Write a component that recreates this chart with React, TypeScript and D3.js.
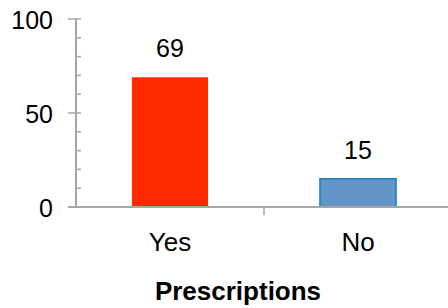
import React from "react";
import { scaleBand, scaleLinear, range } from "d3";

const categories = ["Yes", "No"];
const values = [69, 15];
const barColors = ["#ff2a00", "#6395c9"];
const barStrokes = ["none", "#1a80c8"];
const yTicks = [0, 50, 100];
const xTitle = "Prescriptions";

const width = 448;
const height = 308;
const margin = { left: 76, top: 19, right: -4, bottom: 101 };
const font = "Liberation Sans, Arial, sans-serif";
const axisColor = "#a6a6a6";

export default function App() {
  const x = scaleBand()
    .domain(categories)
    .range([margin.left, width - margin.right])
    .padding(0);
  const y = scaleLinear()
    .domain([0, 100])
    .range([height - margin.bottom, margin.top]);
  const barW = x.bandwidth() * 0.405;
  const minor = range(0, 101, 10);
  const y0 = y(0);

  return (
    <svg
      width={width}
      height={height}
      style={{ position: "absolute", left: 0, top: 0, background: "#fff" }}
      fontFamily={font}
    >
      {categories.map((c, i) => {
        const cx = x(c)! + x.bandwidth() / 2;
        return (
          <g key={c}>
            <rect
              x={cx - barW / 2}
              y={y(values[i])}
              width={barW}
              height={y0 - y(values[i])}
              fill={barColors[i]}
              stroke={barStrokes[i]}
              strokeWidth={1.5}
            />
            <text x={cx} y={y(values[i]) - 20} textAnchor="middle" fontSize={25} fill="#000">
              {values[i]}
            </text>
            <text x={cx} y={251} textAnchor="middle" fontSize={26} fill="#000">
              {c}
            </text>
          </g>
        );
      })}
      {/* y axis */}
      <line x1={margin.left} x2={margin.left} y1={y(100)} y2={y0} stroke={axisColor} strokeWidth={2} />
      {minor.map((t) => (
        <line
          key={t}
          x1={yTicks.includes(t) ? margin.left - 8 : margin.left}
          x2={margin.left + 5}
          y1={y(t)}
          y2={y(t)}
          stroke={axisColor}
          strokeWidth={1.5}
        />
      ))}
      {yTicks.map((t) => (
        <text key={t} x={53} y={y(t) + 10} textAnchor="end" fontSize={25} fill="#000">
          {t}
        </text>
      ))}
      {/* x axis */}
      <line x1={margin.left - 8} x2={width} y1={y0} y2={y0} stroke={axisColor} strokeWidth={2} />
      {categories.slice(1).map((c) => (
        <line key={c} x1={x(c)} x2={x(c)} y1={y0} y2={y0 + 8} stroke={axisColor} strokeWidth={1.5} />
      ))}
      <text x={238} y={300} textAnchor="middle" fontSize={26} fontWeight="bold" fill="#000">
        {xTitle}
      </text>
    </svg>
  );
}
